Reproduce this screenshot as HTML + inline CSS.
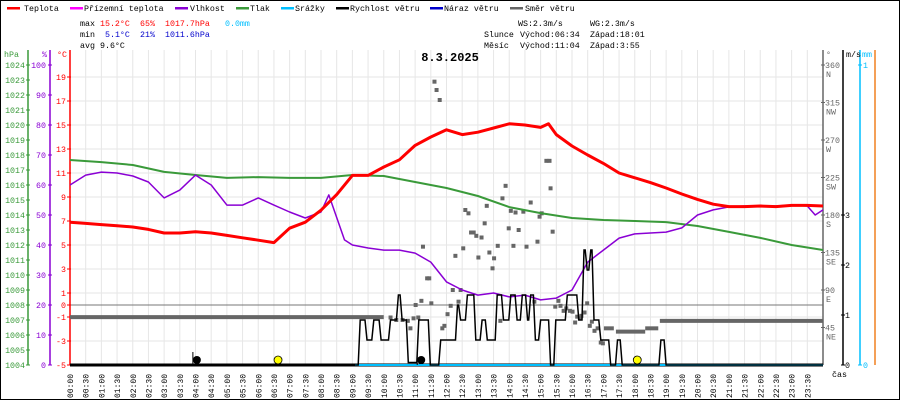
<!DOCTYPE html>
<html><head><meta charset="utf-8"><style>
html,body{margin:0;padding:0;background:#fff}
svg{display:block;font-family:"Liberation Mono","DejaVu Sans Mono",monospace}
</style></head><body>
<svg id="chart" width="900" height="400" viewBox="0 0 900 400" xmlns="http://www.w3.org/2000/svg">
<rect x="0.5" y="0.5" width="899" height="399" fill="#fff" stroke="#000"/>
<g id="grid"></g>
<g id="legend" font-size="8.3">
 <g><rect x="7" y="7" width="13" height="2.5" fill="#f00"/><text x="24" y="11">Teplota</text></g>
 <g><rect x="70" y="7" width="13" height="2.5" fill="#f0f"/><text x="84" y="11">Přízemní teplota</text></g>
 <g><rect x="175" y="7" width="13" height="2.5" fill="#8a00d4"/><text x="190" y="11">Vlhkost</text></g>
 <g><rect x="236" y="7" width="13" height="2.5" fill="#3a9a3a"/><text x="250" y="11">Tlak</text></g>
 <g><rect x="281" y="7" width="13" height="2.5" fill="#00bfff"/><text x="295" y="11">Srážky</text></g>
 <g><rect x="336" y="7" width="13" height="2.5" fill="#000"/><text x="350" y="11">Rychlost větru</text></g>
 <g><rect x="430" y="7" width="13" height="2.5" fill="#0000cc"/><text x="444" y="11">Náraz větru</text></g>
 <g><rect x="510" y="7" width="13" height="2.5" fill="#666"/><text x="525" y="11">Směr větru</text></g>
</g>
<g id="stats" font-size="8.3">
 <text x="80" y="26">max</text><text x="100" y="26" fill="#f00">15.2°C</text><text x="140" y="26" fill="#f00">65%</text><text x="165" y="26" fill="#f00">1017.7hPa</text><text x="225" y="26" fill="#00bfff">0.0mm</text>
 <text x="80" y="37">min</text><text x="105" y="37" fill="#0000cc">5.1°C</text><text x="140" y="37" fill="#0000cc">21%</text><text x="165" y="37" fill="#0000cc">1011.6hPa</text>
 <text x="80" y="48">avg</text><text x="100" y="48">9.6°C</text>
 <text x="518" y="26">WS:2.3m/s</text><text x="590" y="26">WG:2.3m/s</text>
 <text x="484" y="37">Slunce</text><text x="520" y="37">Východ:06:34</text><text x="590" y="37">Západ:18:01</text>
 <text x="484" y="48">Měsíc</text><text x="520" y="48">Východ:11:04</text><text x="590" y="48">Západ:3:55</text>
</g>
<text x="450" y="61" text-anchor="middle" font-size="12" font-weight="bold">8.3.2025</text>
<g id="axes" font-size="8.3"></g>
<g id="series"></g>
</svg>
<script>
// ---- data ----
const tempTimes=[0,0.5,1,1.5,2,2.5,3,3.5,4,4.5,5,5.5,6,6.5,7,7.5,8,8.5,9,9.5,10,10.5,11,11.5,12,12.5,13,13.5,14,14.5,15,15.25,15.5,16,16.5,17,17.5,18,18.5,19,19.5,20,20.5,21,21.5,22,22.5,23,23.5,24];
const tempValues=[6.9,6.8,6.7,6.6,6.5,6.3,6.0,6.0,6.1,6.0,5.8,5.6,5.4,5.2,6.4,6.9,7.9,9.2,10.8,10.8,11.5,12.1,13.3,14.0,14.6,14.2,14.4,14.75,15.1,15.0,14.8,15.1,14.2,13.25,12.5,11.8,11.0,10.6,10.2,9.75,9.25,8.8,8.4,8.2,8.2,8.25,8.2,8.3,8.3,8.25];
const humTimes=[0,0.5,1,1.5,2,2.5,3,3.5,4,4.5,5,5.5,6,6.5,7,7.5,8,8.25,8.75,9,9.5,10,10.5,11,11.5,12,12.5,13,13.5,14,14.5,15,15.5,16,16.5,17,17.5,18,18.5,19,19.5,20,20.5,21,21.5,22,22.5,23,23.5,23.75,24];
const humValues=[60,63.3,64.3,64,63,61,55.7,58.3,63.3,60,53.3,53.3,55.7,53.3,51,49,51,56.7,41.7,40,39,38.3,38.3,37.3,34.3,27.7,25,23.3,24,22.7,23.3,21.7,22.3,25,34.3,38.3,42.3,43.7,44,44.3,45.7,50,51.7,52.7,53,53,53,53.3,53,50,51.7];
const presTimes=[0,1,2,3,4,5,6,7,8,9,10,11,12,13,14,15,16,17,18,19,20,21,22,23,24];
const presValues=[1017.67,1017.53,1017.33,1016.87,1016.67,1016.47,1016.53,1016.47,1016.47,1016.67,1016.6,1016.2,1015.8,1015.27,1014.53,1014.13,1013.8,1013.67,1013.6,1013.53,1013.27,1012.87,1012.47,1012.0,1011.67];
const windMinutes=[0,545,555,568,581,595,613,628,635,647,657,667,680,689,709,728,741,747,760,769,776,788,798,817,829,843,855,865,875,881,890,900,919,929,951,967,973,983,989,996,1002,1015,1028,1034,1047,1056,1092,1130,1140,1440];
const windSpeed=[0,0,0.9,0.5,0.9,0.5,0.9,1.4,0.9,0.05,0.05,0.9,0.9,0,0.5,0.5,1.2,0.9,1.4,1.4,0.5,0.9,0.5,1.4,0.9,1.4,0.9,1.4,0.9,1.4,0.5,0.9,0,0.9,1.4,1.4,0.9,2.3,1.9,2.3,0.9,0.5,0.5,0,0.5,0,0,0.5,0,0];
const dirMinutes=[697,701,707,911,917,833,919,827,881,797,756,762,843,852,867,902,898,793,839,858,923,767,772,777,787,894,818,848,873,675,752,802,737,781,811,808,683,687,732,747,743,672,691,661,888,934,928,938,728,722,666,657,646,624,636,613,651,712,716,823,944,949,956,961,970,978,984,989,966,975,998,994,1003,1009,1015,1019];
const dirDegrees=[340,330,318,245,245,215,212,200,195,191,186,182,185,183,184,182,178,170,164,162,160,159,159,155,153,148,143,143,142,142,140,135,131,129,128,116,104,104,90,90,76,77,74,72,76,77,70,71,71,61,57,56,53,54,54,57,44,44,47,53,65,68,65,64,58,59,63,74,51,56,52,47,41,44,27,26];
const dirSegStart=[0,1021,1044,1100,1128];
const dirSegEnd=[600,1040,1100,1125,1440];
const dirSegDeg=[57.5,44,40,44,53];
const rainMinutes=[545,1440];
const rainValues=[0,0];
const hpaTicks=[1004,1005,1006,1007,1008,1009,1010,1011,1012,1013,1014,1015,1016,1017,1018,1019,1020,1021,1022,1023,1024];
const humTicks=[0,10,20,30,40,50,60,70,80,90,100];
const tempTicks=[-5,-3,-1,0,1,3,5,7,9,11,13,15,17,19];
const dirTicks=[45,90,135,180,225,270,315,360];
const dirTickNames=['NE','E','SE','S','SW','W','NW','N'];
const windTicks=[0,1,2,3];
const rainTicks=[0,1];
const sunEvents=[6+34/60,18+1/60];
const moonEvents=[3+55/60,11+4/60];

// ---- scales ----
const X0=70,X1=823,YB=365,YT=50;
const xH=h=>X0+h/24*(X1-X0);
const xM=m=>xH(m/60);
const yT=t=>305-t*12;
const yP=p=>YB-(p-1004)*15;
const yHm=v=>YB-v*3;
const yD=d=>YB-d*(300/360);
const yW=w=>YB-w*50;
const yR=r=>YB-r*300;
const NS='http://www.w3.org/2000/svg';
function mk(tag,attrs,parent){const e=document.createElementNS(NS,tag);for(const k in attrs)e.setAttribute(k,attrs[k]);parent.appendChild(e);return e;}
const grid=document.getElementById('grid'),axes=document.getElementById('axes'),series=document.getElementById('series');

for(let i=0;i<=48;i++){const x=xH(i/2);const l=mk('line',{x1:x,x2:x,y1:YT,y2:YB,stroke:'#e6e6e6','stroke-width':1},grid);

}
tempTicks.filter(t=>t%2!==0&&t>-5).forEach(t=>{const l=mk('line',{x1:X0,x2:X1,y1:yT(t),y2:yT(t),stroke:'#e6e6e6'},grid);

});
const zl=mk('line',{x1:X0,x2:X1,y1:yT(0),y2:yT(0),stroke:'#777'},grid);



function axisLine(x,color,name){const l=mk('line',{x1:x,x2:x,y1:YT,y2:YB,stroke:color,'stroke-width':1.5},axes);

}
axisLine(28,'#3a9a3a','hpa-axis');axisLine(50,'#8a00d4','humidity-axis');axisLine(70,'#f00','temperature-axis');
axisLine(823,'#666','direction-axis');axisLine(843,'#000','wind-axis');axisLine(860,'#00bfff','rain-axis');axisLine(875,'#f08020','orange-axis');
function lbl(x,y,s,color,anchor,name){const t=mk('text',{x:x,y:y,fill:color,'text-anchor':anchor},axes);t.textContent=s;

return t;}
lbl(4,57,'hPa','#3a9a3a','start','hpa-axis-title');lbl(42,57,'%','#8a00d4','start','humidity-axis-title');lbl(57,57,'°C','#f00','start','temperature-axis-title');
hpaTicks.forEach(v=>{const y=yP(v);mk('line',{x1:26,x2:30,y1:y,y2:y,stroke:'#3a9a3a'},axes);lbl(25,y+3,String(v),'#3a9a3a','end','hpa-tick-label');});
humTicks.forEach(v=>{const y=yHm(v);mk('line',{x1:48,x2:52,y1:y,y2:y,stroke:'#8a00d4'},axes);lbl(46,y+3,String(v),'#8a00d4','end','humidity-tick-label');});
tempTicks.forEach(v=>{const y=yT(v);mk('line',{x1:67,x2:71,y1:y,y2:y,stroke:'#f00'},axes);lbl(66,y+3,String(v),'#f00','end','temperature-tick-label');});
lbl(826,57,'°','#666','start','direction-axis-title');lbl(846,57,'m/s','#000','start','wind-axis-title');lbl(862,57,'mm','#00bfff','start','rain-axis-title');
dirTicks.forEach((v,i)=>{const y=yD(v);mk('line',{x1:821,x2:825,y1:y,y2:y,stroke:'#666'},axes);lbl(825,y+3,String(v),'#666','start','direction-tick-label');lbl(826,y+12,dirTickNames[i],'#666','start','direction-name-label');});
windTicks.forEach(v=>{const y=yW(v);mk('line',{x1:841,x2:845,y1:y,y2:y,stroke:'#000'},axes);lbl(845,y+3,String(v),'#000','start','wind-tick-label');});
rainTicks.forEach(v=>{const y=yR(v);mk('line',{x1:858,x2:862,y1:y,y2:y,stroke:'#00bfff'},axes);lbl(863,y+3,String(v),'#00bfff','start','rain-tick-label');});
lbl(832,377,'čas','#000','start','x-axis-title');
for(let i=0;i<48;i++){const h=Math.floor(i/2),m=i%2?'30':'00';const s=(h<10?'0':'')+h+':'+m;const x=xH(i/2)+3;
const t=mk('text',{x:0,y:0,transform:`translate(${x},398) rotate(-90)`,'font-size':'8'},axes);t.textContent=s;

}

function path(times,vals,fx,fy,color,w,name){let d='';times.forEach((t,i)=>{d+=(i?'L':'M')+fx(t).toFixed(1)+','+fy(vals[i]).toFixed(1);});
const p=mk('path',{d:d,fill:'none',stroke:color,'stroke-width':w,'stroke-linejoin':'round'},series);

}
function stepPath(times,vals,fx,fy,color,w,name){let d='M'+fx(times[0]).toFixed(1)+','+fy(vals[0]).toFixed(1);
for(let i=1;i<times.length;i++){const xa=fx(times[i-1]),xb=fx(times[i]);const xr=Math.max(xa,xb-2);
d+='L'+xr.toFixed(1)+','+fy(vals[i-1]).toFixed(1)+'L'+xb.toFixed(1)+','+fy(vals[i]).toFixed(1);}
const p=mk('path',{d:d,fill:'none',stroke:color,'stroke-width':w},series);

}
dirSegStart.forEach((s,i)=>{const l=mk('line',{x1:xM(s),x2:xM(dirSegEnd[i]),y1:yD(dirSegDeg[i]),y2:yD(dirSegDeg[i]),stroke:'#666','stroke-width':4},series);

});
dirMinutes.forEach((m,i)=>{const r=mk('rect',{x:xM(m)-2,y:yD(dirDegrees[i])-2,width:4,height:4,fill:'#666'},series);

});
path(presTimes,presValues,xH,yP,'#3a9a3a',2,'pressure-line');
path(humTimes,humValues,xH,yHm,'#8a00d4',1.5,'humidity-line');
path(tempTimes,tempValues,xH,yT,'#f00',3,'temperature-line');
path([0,24],[0,0],xH,yW,'#000',3,'wind-baseline');
path(rainMinutes,rainValues,xM,yR,'#00bfff',2,'rain-line');
stepPath(windMinutes,windSpeed,xM,yW,'#000',1.5,'wind-speed-line');
sunEvents.forEach(h=>{const c=mk('circle',{cx:xH(h)+2,cy:360,r:4,fill:'#ff0',stroke:'#000','stroke-width':0.8},series);

});
moonEvents.forEach(h=>{const c=mk('circle',{cx:xH(h)+4,cy:360,r:4,fill:'#000'},series);


const a=mk('line',{x1:xH(h),x2:xH(h),y1:352,y2:365,stroke:'#000'},series);

});
</script>
</body></html>
